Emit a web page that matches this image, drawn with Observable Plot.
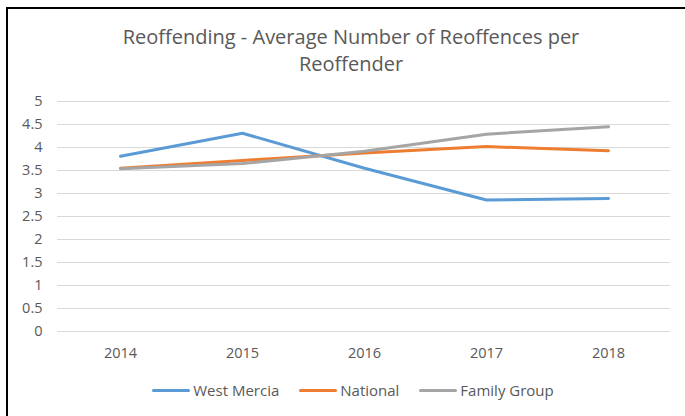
<!DOCTYPE html>
<html><head><meta charset="utf-8">
<script src="https://cdn.jsdelivr.net/npm/d3@7"></script>
<script src="https://cdn.jsdelivr.net/npm/@observablehq/plot@0.6"></script>
<style>
body{margin:0;background:#fff;font-family:"Open Sans",sans-serif;}
#wrap{position:relative;width:685px;height:416px;overflow:hidden;background:#fff;}
#frame{position:absolute;left:6px;top:7px;width:720px;height:440px;border-left:2px solid #000;border-top:2px solid #000;}
#title{position:absolute;top:23px;left:0;width:702px;text-align:center;font-size:20px;line-height:27px;color:#595959;}
#chart{position:absolute;left:0;top:0;}
#legend{position:absolute;top:380px;left:0;width:706px;display:flex;justify-content:center;font-size:15px;color:#595959;}
.item{display:flex;align-items:center;margin:0 10px;height:20px;}
.sw{display:inline-block;width:38px;height:3px;border-radius:2px;margin-right:3px;}
</style></head>
<body>
<div id="wrap">
  <div id="frame"></div>
  <div id="title">Reoffending - Average Number of Reoffences per<br>Reoffender</div>
  <div id="chart"></div>
  <div id="legend"></div>
</div>
<script>
const years = ["2014","2015","2016","2017","2018"];
const seriesNames = ["West Mercia","National","Family Group"];
const seriesColors = ["#5b9bd5","#ed7d31","#a5a5a5"];
const westMercia = [3.81, 4.31, 3.55, 2.86, 2.89];
const national = [3.55, 3.72, 3.88, 4.02, 3.93];
const familyGroup = [3.54, 3.65, 3.92, 4.29, 4.45];
const yTicks = [0,0.5,1,1.5,2,2.5,3,3.5,4,4.5,5];

const allValues = [westMercia, national, familyGroup];
const data = [];
seriesNames.forEach((s, i) => years.forEach((y, j) => data.push({series: s, year: y, value: allValues[i][j]})));

const chart = Plot.plot({
  width: 685, height: 416,
  marginTop: 101, marginBottom: 85, marginLeft: 57, marginRight: 15,
  style: {fontFamily: "'Open Sans', sans-serif", fontSize: "14.5px", color: "#595959", background: "transparent"},
  x: {type: "point", domain: years, padding: 0.5, label: null},
  y: {domain: [0,5], label: null},
  color: {domain: seriesNames, range: seriesColors},
  marks: [
    Plot.gridY(yTicks, {stroke: "#d9d9d9", strokeOpacity: 1, strokeWidth: 1}),
    Plot.axisY(yTicks, {tickSize: 0, tickPadding: 15, label: null, fill: "#595959", tickFormat: d => String(d)}),
    Plot.axisX({tickSize: 0, tickPadding: 16, label: null, fill: "#595959"}),
    Plot.line(data, {x: "year", y: "value", z: "series", stroke: "series", strokeWidth: 3, strokeLinecap: "round", strokeLinejoin: "round"})
  ]
});
document.getElementById("chart").appendChild(chart);

const legend = document.getElementById("legend");
seriesNames.forEach((s, i) => {
  const it = document.createElement("div");
  it.className = "item";
  it.innerHTML = `<span class="sw" style="background:${seriesColors[i]}"></span><span>${s}</span>`;
  legend.appendChild(it);
});
</script>
</body></html>
